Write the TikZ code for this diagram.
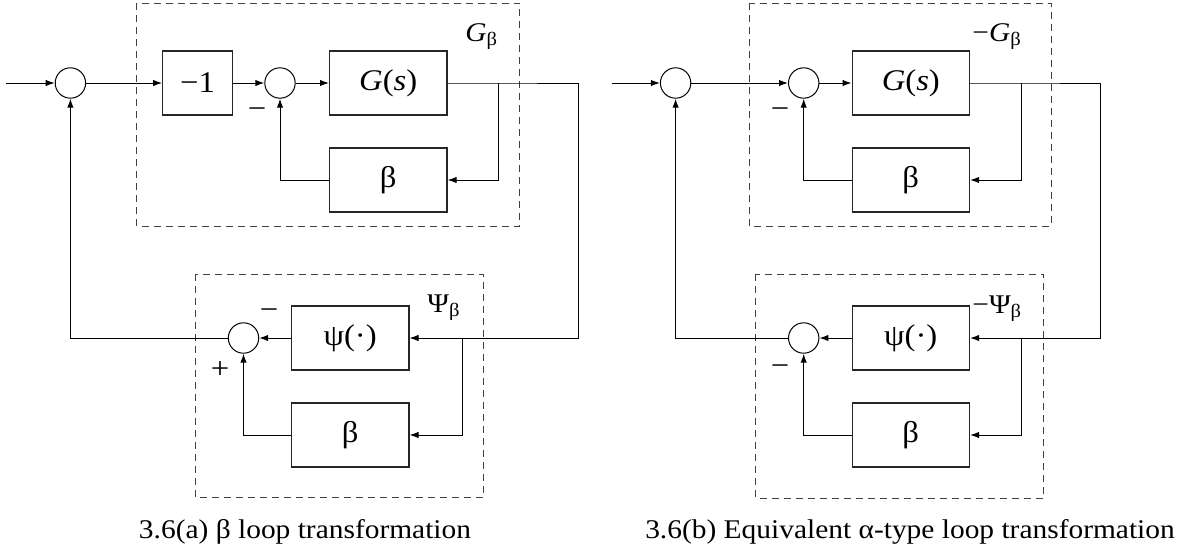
\documentclass[tikz,border=0pt]{standalone}
\usepackage{fontspec}
\setmainfont[FakeStretch=1.09]{Liberation Serif}
\usetikzlibrary{arrows.meta}

\tikzstyle{block} = [
    rectangle,
    minimum width=58.7pt,
    minimum height=32pt,
    inner sep=0pt,
    draw=black!85,
    line width=0.6pt,
    font=\fontsize{15}{18}\selectfont
]
\tikzstyle{sumnode} = [
    circle,
    minimum size=15.2pt,
    inner sep=0pt,
    draw=black,
    line width=0.5pt
]
\tikzstyle{dashbox} = [
    draw=black!75,
    line width=0.5pt,
    dash pattern=on 3.5pt off 2.5pt
]
\tikzstyle{tag} = [
    inner sep=0pt,
    font=\fontsize{13.5}{16}\selectfont
]
\tikzstyle{sign} = [
    inner sep=0pt,
    font=\fontsize{15}{18}\selectfont
]
\tikzstyle{arrow} = [line width=0.5pt,-{Latex[length=4.5pt,width=3.2pt]}]
\tikzstyle{wire} = [line width=0.5pt]

\begin{document}
\begin{tikzpicture}[x=0.5pt, y=-0.5pt]
\useasboundingbox (0,0) rectangle (1178,552);

% (a) beta loop transformation
\draw [dashbox] (136.5,3) rectangle (519.5,226);
\draw [dashbox] (195,274) rectangle (483.5,497);

\coordinate (inA) at (6,83);
\node (sumA) [sumnode] at (70.4,83) {};
\node (minus1) [block, minimum width=34.8pt] at (197.5,83) {−1};
\node (sumB) [sumnode] at (280,83) {};
\node (gsA) [block] at (388.3,83) {\textit{G}(\textit{s})};
\node (betaA) [block] at (388.3,180) {β};
\coordinate (brA) at (498,83);
\coordinate (cornerA) at (578,83);

\node (sumC) [sumnode] at (243.5,338) {};
\node (psiA) [block] at (350.2,338) {ψ(·)};
\node (betaC) [block] at (350.2,435) {β};
\coordinate (brC) at (462.7,338);

\node (tagGA) [tag, anchor=base west] at (465,41) {\textit{G}\textsubscript{β}};
\node (tagPA) [tag, anchor=base west] at (427,312) {Ψ\textsubscript{β}};
\node (sgnB) [sign] at (257,113) {−};
\node (sgnC1) [sign] at (269,314) {−};
\node (sgnC2) [sign] at (220,370) {+};

\draw [arrow] (inA) -- (sumA);
\draw [arrow] (sumA) -- (minus1);
\draw [arrow] (minus1) -- (sumB);
\draw [arrow] (sumB) -- (gsA);
\draw [wire] (gsA) -- (brA) -- (cornerA);
\draw [arrow] (brA) |- (betaA);
\draw [arrow] (betaA) -| (sumB);
\draw [arrow] (cornerA) |- (psiA);
\draw [arrow] (brC) |- (betaC);
\draw [arrow] (psiA) -- (sumC);
\draw [arrow] (betaC) -| (sumC);
\draw [arrow] (sumC) -| (sumA);

\node (capA) [tag, anchor=base] at (305,538) {3.6(a) β loop transformation};

% (b) equivalent alpha-type loop transformation
\draw [dashbox] (749,3) rectangle (1051,226);
\draw [dashbox] (755.6,274) rectangle (1043.7,498);

\coordinate (inD) at (612,83);
\node (sumD) [sumnode] at (675.6,83) {};
\node (sumE) [sumnode] at (803.7,83) {};
\node (gsD) [block] at (910.8,83) {\textit{G}(\textit{s})};
\node (betaD) [block] at (910.8,180) {β};
\coordinate (brD) at (1021,83);
\coordinate (cornerD) at (1100,83);

\node (sumF) [sumnode] at (803.7,338) {};
\node (psiD) [block] at (910.8,338) {ψ(·)};
\node (betaF) [block] at (910.8,435) {β};
\coordinate (brF) at (1021,338);

\node (tagGD) [tag, anchor=base west] at (972,41) {−\textit{G}\textsubscript{β}};
\node (tagPD) [tag, anchor=base west] at (972,313) {−Ψ\textsubscript{β}};
\node (sgnE) [sign] at (780,113) {−};
\node (sgnF) [sign] at (780,370) {−};

\draw [arrow] (inD) -- (sumD);
\draw [arrow] (sumD) -- (sumE);
\draw [arrow] (sumE) -- (gsD);
\draw [wire] (gsD) -- (brD) -- (cornerD);
\draw [arrow] (brD) |- (betaD);
\draw [arrow] (betaD) -| (sumE);
\draw [arrow] (cornerD) |- (psiD);
\draw [arrow] (brF) |- (betaF);
\draw [arrow] (psiD) -- (sumF);
\draw [arrow] (betaF) -| (sumF);
\draw [arrow] (sumF) -| (sumD);

\node (capD) [tag, anchor=base] at (910,538) {3.6(b) Equivalent α-type loop transformation};

\end{tikzpicture}
\end{document}
